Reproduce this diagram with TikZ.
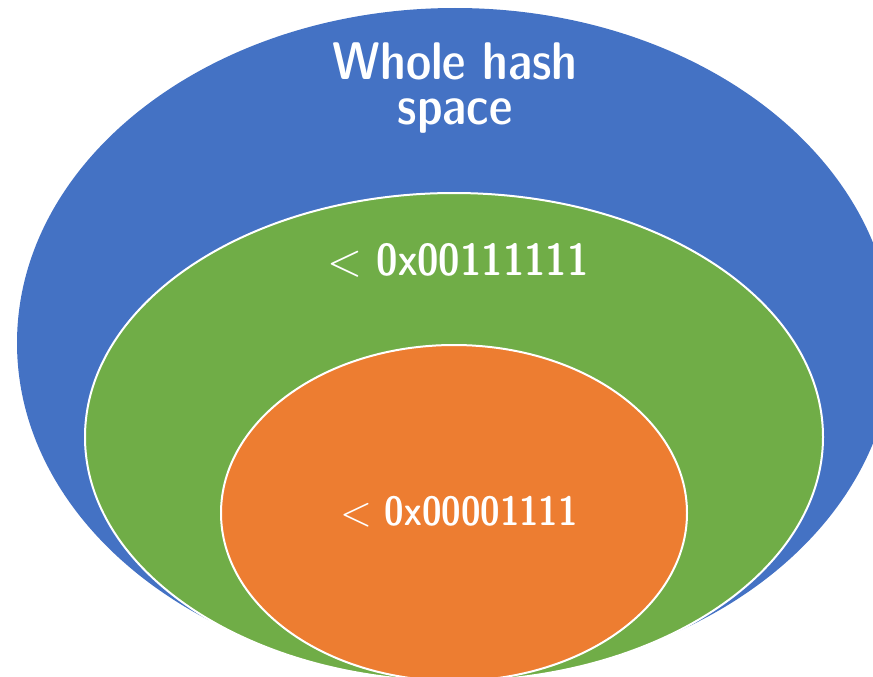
\documentclass[tikz,border=0pt]{standalone}
\definecolor{hashblue}{HTML}{4472C4}
\definecolor{hashgreen}{HTML}{70AD47}
\definecolor{hashorange}{HTML}{ED7D31}
\begin{document}
\begin{tikzpicture}[x=1pt, y=-1pt,
    rim/.style={draw=white, line width=2pt},
    lbl/.style={text=white, inner sep=0pt, anchor=base, align=center}]
        \useasboundingbox (0, 0) rectangle (873, 677);
        \fill[hashblue] (455, 343) ellipse [x radius=438, y radius=335];
        \fill[hashgreen, rim] (454, 437) ellipse [x radius=369, y radius=244];
        \fill[hashorange, rim] (454, 513) ellipse [x radius=233, y radius=168];
        \node[lbl, font=\sffamily\fontseries{sbc}\fontsize{53}{44}\selectfont] (whole) at (455, 124) {Whole hash\\space};
        \node[lbl, font=\sffamily\fontseries{sbc}\fontsize{45}{45}\selectfont] (mid) at (458, 275) {< 0x00111111};
        \node[lbl, font=\sffamily\fontseries{sbc}\fontsize{41}{41}\selectfont] (low) at (459, 525) {< 0x00001111};
    \end{tikzpicture}
\end{document}
